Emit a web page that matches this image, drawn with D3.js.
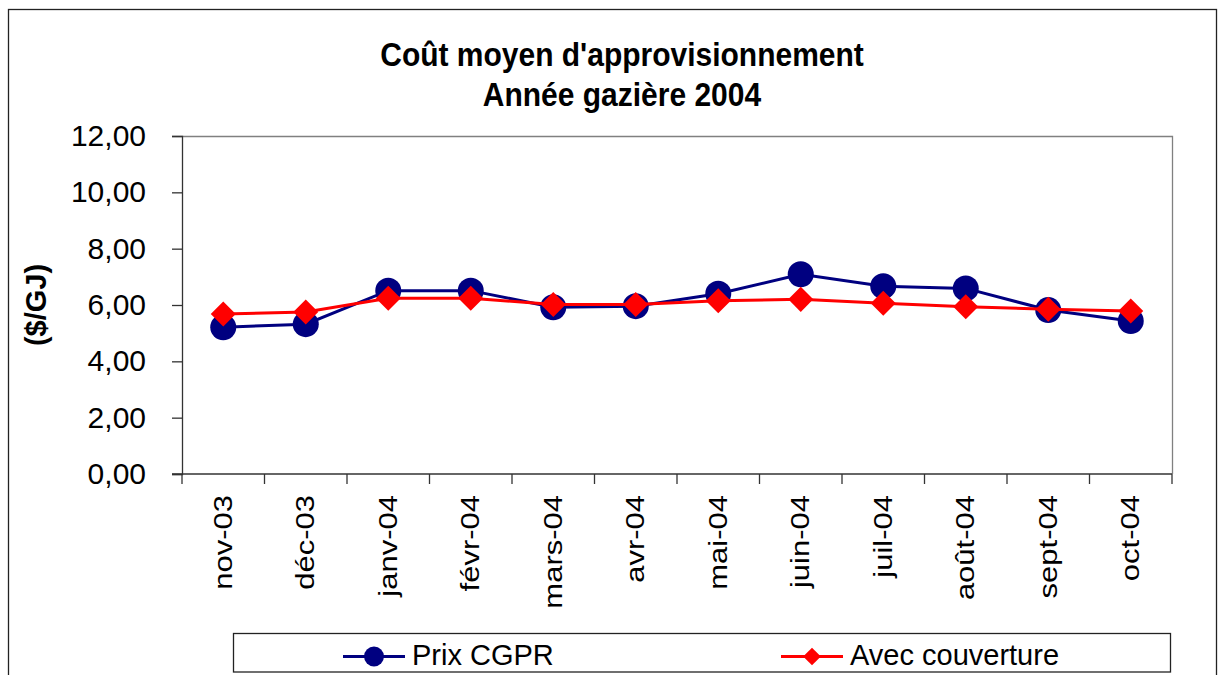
<!DOCTYPE html>
<html>
<head>
<meta charset="utf-8">
<script src="https://cdn.jsdelivr.net/npm/d3@7"></script>
<style>
  body { margin: 0; background: #fff; }
  text { font-family: "Liberation Sans", Arial, sans-serif; }
</style>
</head>
<body>
<script>
const wdth = 1220;
const hght = 675;

const months = ["nov-03", "déc-03", "janv-04", "févr-04", "mars-04", "avr-04",
  "mai-04", "juin-04", "juil-04", "août-04", "sept-04", "oct-04"];
const prixCgpr = [5.21, 5.32, 6.51, 6.51, 5.92, 5.96, 6.40, 7.09, 6.67, 6.59, 5.82, 5.43];
const avecCouverture = [5.68, 5.75, 6.24, 6.24, 6.02, 6.02, 6.15, 6.20, 6.06, 5.94, 5.85, 5.79];
const yTicks = [0, 2, 4, 6, 8, 10, 12];

const plot = { left: 182, right: 1172, top: 136, bottom: 474 };

const svg = d3.select("body").append("svg")
  .attr("width", wdth)
  .attr("height", hght);

// outer frame
svg.append("rect")
  .attr("x", 8.5).attr("y", 9.5)
  .attr("width", 1208).attr("height", 700)
  .attr("fill", "white").attr("stroke", "#222").attr("stroke-width", 1.3);

svg.append("text")
  .attr("transform", "translate(622,66) scale(1,1.1)")
  .attr("text-anchor", "middle")
  .attr("font-size", 30).attr("font-weight", "bold")
  .text("Coût moyen d'approvisionnement");
svg.append("text")
  .attr("transform", "translate(622,106) scale(1,1.1)")
  .attr("text-anchor", "middle")
  .attr("font-size", 30).attr("font-weight", "bold")
  .text("Année gazière 2004");

const x = d3.scaleBand().domain(months).range([plot.left, plot.right]);
const y = d3.scaleLinear().domain([0, 12]).range([plot.bottom, plot.top]);

// plot area border (top/right)
svg.append("path")
  .attr("d", `M${plot.left},${plot.top + 0.5}H${plot.right + 0.5}V${plot.bottom}`)
  .attr("fill", "none").attr("stroke", "#808080").attr("stroke-width", 1.3);

const yAxis = svg.append("g")
  .attr("transform", `translate(${plot.left},0)`)
  .call(d3.axisLeft(y).tickValues(yTicks).tickSize(10).tickPadding(26)
    .tickFormat(d => d3.format(".2f")(d).replace(".", ",")));
yAxis.select(".domain").attr("stroke", "#333").attr("stroke-width", 1.3);
yAxis.selectAll(".tick line").attr("stroke", "#333").attr("stroke-width", 1.3);
yAxis.selectAll(".tick text")
  .attr("font-size", 30).attr("fill", "#000")
  .attr("font-family", "'Liberation Sans', Arial, sans-serif");

const xAxis = svg.append("g")
  .attr("transform", `translate(0,${plot.bottom})`)
  .call(d3.axisBottom(x).tickSize(0).tickSizeOuter(0));
xAxis.select(".domain").attr("stroke", "#333").attr("stroke-width", 1.3)
  .attr("d", `M${plot.left - 10},0H${plot.right}`);
xAxis.selectAll(".tick text")
  .attr("font-size", 31).attr("fill", "#000")
  .attr("font-family", "'Liberation Sans', Arial, sans-serif")
  .attr("transform", "rotate(-90) scale(1,0.86)")
  .attr("x", -21).attr("y", -1).attr("dy", "0.35em")
  .attr("text-anchor", "end");

// category separator ticks
svg.append("g").selectAll("line")
  .data(months.concat(["end"]))
  .enter().append("line")
  .attr("x1", (d, i) => plot.left + x.step() * i)
  .attr("x2", (d, i) => plot.left + x.step() * i)
  .attr("y1", plot.bottom)
  .attr("y2", plot.bottom + 10)
  .attr("stroke", "#333").attr("stroke-width", 1.3);

svg.append("text")
  .attr("transform", `translate(46,305) rotate(-90)`)
  .attr("text-anchor", "middle")
  .attr("font-size", 29).attr("font-weight", "bold")
  .text("($/GJ)");

const cx = (d, i) => x(months[i]) + x.bandwidth() / 2;
const line = d3.line().x(cx).y(d => y(d));

const blue = "#000080";
const red = "#ff0000";

svg.append("path").datum(prixCgpr)
  .attr("d", line).attr("fill", "none").attr("stroke", blue).attr("stroke-width", 3);
svg.append("g").selectAll("circle").data(prixCgpr).enter().append("circle")
  .attr("cx", cx).attr("cy", d => y(d)).attr("r", 13).attr("fill", blue);

const diamond = d3.symbol().type(d3.symbolDiamond2).size(400);
svg.append("path").datum(avecCouverture)
  .attr("d", line).attr("fill", "none").attr("stroke", red).attr("stroke-width", 3);
svg.append("g").selectAll("path").data(avecCouverture).enter().append("path")
  .attr("d", diamond)
  .attr("transform", (d, i) => `translate(${cx(d, i)},${y(d)})`)
  .attr("fill", red);

// legend
const legend = svg.append("g");
legend.append("rect")
  .attr("x", 233.5).attr("y", 633.5).attr("width", 937).attr("height", 38.5)
  .attr("fill", "white").attr("stroke", "#222").attr("stroke-width", 1.3);

const legendItems = [
  { name: "Prix CGPR", color: blue, x0: 343, marker: "circle" },
  { name: "Avec couverture", color: red, x0: 781, marker: "diamond" }
];
legendItems.forEach(item => {
  legend.append("line")
    .attr("x1", item.x0).attr("x2", item.x0 + 62)
    .attr("y1", 656.5).attr("y2", 656.5)
    .attr("stroke", item.color).attr("stroke-width", 3);
  if (item.marker === "circle") {
    legend.append("circle").attr("cx", item.x0 + 31).attr("cy", 656.5).attr("r", 10).attr("fill", item.color);
  } else {
    legend.append("path").attr("d", d3.symbol().type(d3.symbolDiamond2).size(200))
      .attr("transform", `translate(${item.x0 + 31},656.5)`).attr("fill", item.color);
  }
  legend.append("text")
    .attr("x", item.x0 + 69).attr("y", 665)
    .attr("font-size", 29)
    .text(item.name);
});
</script>
</body>
</html>
